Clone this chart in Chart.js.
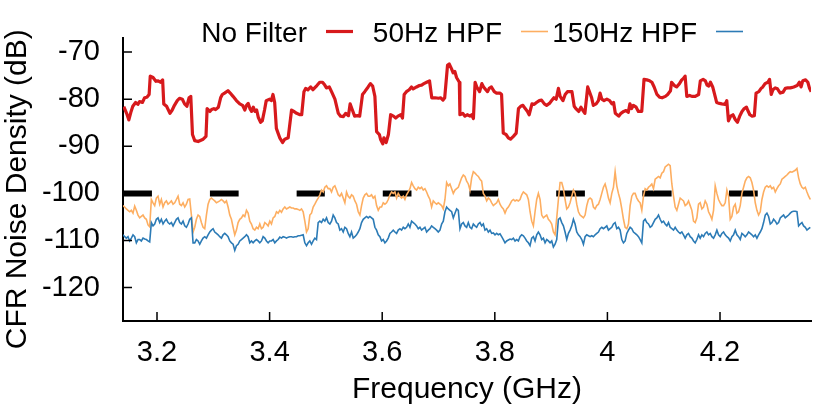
<!DOCTYPE html>
<html>
<head>
<meta charset="utf-8">
<script src="https://cdn.jsdelivr.net/npm/chart.js@4.4.1/dist/chart.umd.min.js"></script>
<style>
  html, body { margin: 0; padding: 0; background: #fff; }
  canvas { display: block; }
</style>
</head>
<body>
<canvas id="chart" width="830" height="415"></canvas>
<script>
// ---- data ----
const xTicks = [3.2, 3.4, 3.6, 3.8, 4.0, 4.2];
const yTicks = [-120, -110, -100, -90, -80, -70];
const seriesNames = ['No Filter', '50Hz HPF', '150Hz HPF'];
const xTitle = 'Frequency (GHz)';
const yTitle = 'CFR Noise Density (dB)';

// No Filter trace: frequency (GHz) / level (dB)
const noFilterFreq = [
  3.141,3.146,3.150,3.154,3.157,3.162,3.166,3.169,3.174,3.178,
  3.182,3.186,3.188,3.193,3.198,3.202,3.206,3.210,3.212,3.217,
  3.223,3.227,3.231,3.236,3.240,3.245,3.249,3.253,3.257,3.260,
  3.263,3.267,3.273,3.282,3.287,3.289,3.294,3.297,3.301,3.304,
  3.309,3.313,3.316,3.320,3.326,3.330,3.335,3.341,3.347,3.352,
  3.356,3.359,3.362,3.365,3.368,3.371,3.374,3.377,3.380,3.384,
  3.387,3.391,3.394,3.400,3.403,3.406,3.409,3.412,3.415,3.418,
  3.423,3.427,3.433,3.439,3.443,3.448,3.454,3.457,3.461,3.464,
  3.468,3.473,3.477,3.480,3.484,3.489,3.494,3.498,3.501,3.506,
  3.510,3.516,3.522,3.526,3.531,3.535,3.540,3.543,3.547,3.551,
  3.556,3.560,3.565,3.569,3.575,3.579,3.583,3.587,3.590,3.595,
  3.597,3.601,3.603,3.607,3.611,3.615,3.620,3.624,3.628,3.633,
  3.636,3.639,3.643,3.648,3.652,3.655,3.661,3.666,3.670,3.674,
  3.679,3.684,3.688,3.694,3.700,3.704,3.708,3.711,3.716,3.719,
  3.723,3.726,3.729,3.732,3.737,
  3.738,3.743,3.747,3.751,3.756,3.759,3.762,3.765,3.768,3.773,
  3.777,3.780,3.784,3.787,3.790,3.794,3.799,3.803,3.809,3.812,
  3.815,3.820,3.824,3.828,3.833,3.838,3.842,3.846,3.850,3.854,
  3.858,3.861,3.866,3.870,3.874,3.879,3.883,3.888,3.892,3.897,
  3.901,3.905,3.909,3.913,3.916,3.921,3.925,3.929,3.937,3.941,
  3.944,3.949,3.953,3.956,3.960,3.965,3.968,3.972,3.975,3.980,
  3.984,3.987,3.990,3.994,3.999,4.004,4.008,4.011,4.014,4.020,
  4.024,4.029,4.033,4.037,4.040,4.043,4.046,4.051,4.055,4.061,
  4.065,4.070,4.075,4.079,4.083,4.088,4.093,4.097,4.103,4.107,
  4.112,4.114,4.119,4.123,4.128,4.132,4.135,4.138,4.141,4.146,
  4.150,4.156,4.162,4.165,4.170,4.174,4.177,4.180,4.183,4.187,
  4.192,4.194,4.199,4.203,4.209,4.212,4.215,4.219,4.223,4.227,
  4.231,4.235,4.239,4.243,4.247,4.249,4.253,4.257,4.261,4.264,
  4.269,4.273,4.276,4.280,4.285,4.288,4.291,4.294,4.298,4.302,
  4.307,4.312,4.316,4.320,4.325,4.331,4.337,4.341,4.344,4.347,
  4.352,4.356,4.359,4.362
];
const noFilterDb = [
  -81.6,-83.0,-84.4,-82.6,-81.5,-80.7,-81.1,-80.5,-80.7,-79.7,
  -79.6,-79.0,-75.1,-75.4,-76.2,-76.1,-76.4,-75.9,-81.0,-81.5,
  -83.0,-82.3,-81.3,-80.3,-79.8,-80.0,-81.0,-81.5,-79.7,-79.4,
  -87.5,-88.8,-89.0,-88.5,-87.9,-82.0,-82.6,-82.2,-82.0,-82.2,
  -81.7,-79.7,-79.0,-78.7,-78.2,-78.7,-79.4,-80.3,-81.0,-81.3,
  -82.3,-81.3,-80.9,-82.0,-82.6,-81.7,-82.6,-82.3,-83.9,-84.9,
  -84.6,-82.3,-80.3,-80.0,-80.3,-79.0,-80.7,-86.2,-87.2,-88.2,
  -89.2,-88.5,-88.2,-82.3,-82.6,-83.0,-83.3,-83.3,-78.4,-77.7,
  -78.0,-77.4,-78.0,-77.6,-77.1,-76.4,-76.4,-77.0,-77.6,-77.4,
  -78.4,-80.0,-83.0,-83.6,-83.7,-83.0,-83.5,-81.0,-82.3,-83.6,
  -83.5,-83.6,-79.0,-78.4,-77.4,-76.7,-77.2,-79.4,-86.9,-87.5,
  -88.5,-89.5,-88.2,-89.2,-87.5,-83.3,-83.6,-84.0,-83.6,-83.3,
  -84.0,-79.0,-78.4,-78.0,-77.4,-77.8,-77.4,-77.1,-77.0,-76.7,
  -76.4,-76.1,-79.7,-79.7,-79.8,-79.7,-80.2,-79.7,-72.8,-72.5,
  -73.5,-74.4,-74.1,-75.4,-76.4,
  -83.3,-83.0,-83.6,-83.3,-83.6,-83.3,-84.1,-76.4,-77.4,-78.4,
  -76.7,-77.4,-78.0,-78.4,-77.7,-77.4,-78.4,-78.7,-78.7,-79.0,
  -87.2,-87.5,-88.2,-88.5,-87.9,-87.2,-82.0,-81.5,-81.3,-82.0,
  -82.6,-83.3,-81.0,-81.1,-80.7,-80.3,-80.2,-81.0,-81.3,-80.9,
  -80.3,-79.7,-80.0,-77.7,-79.4,-80.3,-79.0,-78.4,-78.4,-81.5,
  -82.0,-82.6,-81.7,-82.3,-83.0,-77.4,-78.4,-79.7,-81.3,-81.0,
  -80.3,-78.7,-80.0,-80.3,-80.0,-80.3,-81.0,-80.7,-83.0,-83.6,
  -83.0,-82.6,-82.4,-82.8,-81.0,-82.0,-81.3,-81.7,-82.6,-82.6,
  -75.8,-75.9,-76.1,-76.4,-77.4,-79.0,-79.6,-79.7,-79.4,-79.0,
  -78.2,-76.4,-77.1,-77.4,-76.7,-75.9,-75.6,-75.1,-79.4,-79.2,
  -79.4,-79.4,-79.0,-76.1,-75.8,-76.1,-77.0,-77.2,-76.4,-77.4,
  -79.7,-80.7,-80.9,-81.0,-81.1,-80.3,-84.6,-83.6,-83.3,-84.3,
  -84.9,-83.6,-82.6,-82.0,-81.7,-82.3,-83.3,-83.6,-83.5,-78.7,
  -78.4,-77.7,-77.4,-76.7,-76.4,-75.8,-79.0,-78.0,-77.6,-77.8,
  -78.7,-78.5,-77.7,-77.6,-77.6,-77.4,-77.1,-76.4,-77.4,-76.1,
  -75.9,-76.4,-77.7,-78.4
];

// the two HPF traces are sampled on one uniform frequency grid
const hpfStartGHz = 3.1396;
const hpfStepGHz = 0.002963;

const hpf50Db = [
  -102.6,-102.9,-103.3,-103.6,-103.9,-103.6,-104.2,-102.7,-103.6,-104.6,
  -105.2,-104.9,-104.6,-105.2,-105.5,-106.7,-107.1,-101.3,-102.0,-102.6,
  -101.0,-100.6,-102.3,-101.3,-102.9,-102.0,-101.6,-102.3,-102.0,-101.6,
  -102.3,-102.0,-101.3,-100.6,-102.3,-102.6,-102.0,-102.9,-102.3,-101.3,
  -101.2,-104.6,-108.2,-107.2,-105.5,-104.6,-104.9,-106.2,-107.2,-107.5,
  -104.6,-102.3,-101.3,-101.0,-101.3,-101.6,-102.0,-101.8,-101.6,-101.3,
  -101.6,-102.0,-101.6,-102.9,-104.6,-105.5,-107.2,-108.8,-107.8,-106.2,
  -105.5,-105.2,-104.6,-104.9,-103.6,-104.2,-105.9,-106.5,-107.5,-107.8,
  -107.2,-107.5,-106.5,-107.5,-107.2,-106.2,-106.5,-106.9,-105.9,-106.5,
  -105.2,-104.9,-103.9,-104.2,-103.6,-104.0,-103.3,-102.9,-103.3,-103.1,
  -102.9,-103.1,-103.1,-103.3,-103.3,-103.4,-103.6,-103.3,-103.9,-105.9,
  -108.2,-107.5,-104.6,-104.2,-102.9,-102.3,-101.6,-101.0,-100.3,-99.3,
  -99.7,-98.7,-98.4,-99.0,-99.0,-99.7,-98.7,-98.4,-99.3,-100.3,
  -100.6,-100.0,-101.0,-102.0,-99.7,-100.6,-101.0,-100.3,-100.6,-101.6,
  -102.3,-103.9,-104.6,-102.6,-101.0,-100.3,-100.0,-100.6,-100.6,-100.3,
  -101.0,-100.6,-102.6,-103.6,-102.9,-102.9,-102.0,-102.3,-102.0,-101.3,
  -100.3,-99.7,-100.0,-99.7,-101.0,-100.0,-100.6,-101.0,-100.6,-101.3,
  -100.3,-99.7,-99.0,-97.7,-98.4,-99.0,-99.3,-98.7,-99.0,-98.7,
  -99.3,-99.0,-99.7,-100.6,-101.3,-102.9,-101.6,-102.0,-102.3,-102.0,
  -102.3,-102.6,-103.3,-101.3,-97.7,-98.4,
  -98.0,-99.0,-100.0,-99.3,-99.0,-98.7,-97.7,-96.7,-96.1,-96.4,
  -97.4,-98.0,-99.3,-96.7,-95.4,-95.7,-96.1,-96.4,-97.0,-97.4,
  -100.0,-100.6,-101.6,-101.0,-101.3,-102.0,-102.6,-102.3,-102.0,-101.3,
  -102.3,-102.9,-103.3,-104.2,-103.3,-102.9,-102.3,-101.6,-101.3,-101.6,
  -101.4,-101.6,-101.3,-100.3,-99.7,-100.0,-100.3,-101.3,-103.9,-105.9,
  -106.9,-103.9,-101.3,-100.0,-101.3,-104.6,-105.2,-104.9,-104.6,-105.5,
  -105.9,-106.5,-108.2,-108.8,-105.2,-101.3,-97.7,-97.7,-99.0,-101.3,
  -103.3,-102.9,-102.0,-100.6,-99.3,-100.0,-102.3,-103.9,-104.6,-104.9,
  -105.2,-104.6,-102.6,-101.3,-101.0,-101.3,-102.9,-103.3,-102.6,-102.3,
  -101.3,-100.0,-98.7,-98.0,-99.3,-101.0,-102.0,-100.0,-98.7,-95.4,
  -98.4,-100.0,-101.3,-103.3,-105.5,-107.2,-107.5,-106.5,-102.6,-100.6,
  -100.0,-100.0,-101.0,-101.6,-102.0,-103.6,-100.6,-99.0,-99.3,-98.7,
  -98.4,-98.0,-99.0,-97.0,-96.7,-96.4,-96.7,-95.7,-95.4,-94.4,
  -94.1,-93.8,-94.1,-98.0,-100.6,-102.9,-103.6,-102.3,-101.0,-101.3,
  -101.6,-102.6,-102.3,-101.6,-102.6,-103.6,-105.9,-106.2,-105.2,-102.3,
  -102.0,-103.3,-102.9,-101.6,-102.3,-103.9,-104.6,-105.5,-103.6,-98.4,
  -100.0,-101.3,-102.0,-102.6,-102.6,-102.0,-99.3,-100.6,-105.5,-104.9,
  -102.9,-102.3,-104.2,-103.9,-102.6,-100.0,-98.7,-97.4,-96.7,-96.4,
  -96.7,-97.7,-99.3,-102.0,-103.6,-104.6,-103.9,-101.3,-99.7,-98.7,
  -98.4,-98.7,-98.4,-99.0,-98.7,-99.7,-99.0,-98.4,-98.0,-97.0,
  -96.7,-96.4,-96.1,-95.7,-95.4,-95.5,-95.3,-95.1,-94.7,-96.7,
  -98.0,-98.7,-99.0,-98.7,-99.7,-100.6,-101.3
];

const hpf150Db = [
  -108.8,-109.2,-109.5,-109.2,-110.1,-109.5,-108.8,-109.2,-110.5,-109.8,
  -109.8,-110.1,-109.5,-109.7,-109.8,-110.1,-110.3,-106.2,-106.9,-106.5,
  -105.5,-105.2,-106.2,-105.5,-106.5,-105.9,-105.5,-106.2,-106.5,-106.2,
  -106.9,-106.2,-105.5,-105.2,-106.2,-106.5,-105.9,-106.9,-107.2,-106.5,
  -105.5,-105.2,-110.5,-110.5,-109.8,-110.1,-110.8,-110.1,-109.5,-109.2,
  -109.5,-108.8,-108.2,-107.8,-107.5,-108.2,-108.5,-108.8,-109.2,-109.5,
  -108.8,-108.5,-108.8,-109.2,-110.1,-110.5,-110.8,-112.1,-111.1,-110.8,
  -110.1,-109.8,-109.5,-109.2,-108.8,-109.2,-110.5,-110.1,-110.5,-110.1,
  -109.8,-110.1,-110.5,-110.1,-109.2,-109.5,-110.1,-110.5,-110.1,-110.1,
  -109.8,-110.5,-110.1,-109.8,-109.3,-109.5,-109.2,-109.3,-109.5,-109.3,
  -109.2,-109.2,-109.3,-109.2,-109.2,-109.0,-109.0,-108.9,-108.8,-110.5,
  -111.1,-110.5,-110.1,-110.8,-110.1,-109.5,-109.8,-106.2,-105.9,-106.2,
  -105.5,-105.9,-105.2,-106.2,-106.5,-105.9,-104.6,-105.2,-106.2,-106.5,
  -107.8,-107.5,-108.2,-107.2,-107.5,-108.5,-109.2,-108.2,-109.5,-109.2,
  -108.8,-108.2,-107.5,-106.2,-105.5,-105.2,-104.9,-105.2,-104.9,-105.2,
  -105.5,-107.2,-107.8,-108.8,-109.2,-110.1,-109.8,-110.5,-110.1,-109.5,
  -108.5,-108.2,-107.8,-108.2,-108.5,-107.8,-107.5,-107.8,-107.2,-107.5,
  -107.2,-106.5,-107.2,-105.9,-106.2,-106.5,-106.9,-107.5,-107.2,-107.8,
  -107.5,-107.2,-108.2,-107.8,-107.5,-106.9,-107.2,-107.5,-107.8,-108.2,
  -107.8,-106.5,-105.9,-103.9,-102.9,-103.3,
  -103.6,-103.9,-105.2,-104.2,-103.3,-103.6,-107.5,-106.5,-106.2,-106.9,
  -107.2,-106.2,-107.2,-107.5,-106.5,-106.9,-107.2,-106.5,-106.2,-106.9,
  -106.5,-107.8,-107.5,-108.2,-107.8,-108.5,-108.4,-108.8,-108.5,-108.8,
  -108.6,-109.2,-109.8,-110.5,-110.1,-109.9,-109.7,-109.8,-109.5,-110.1,
  -109.8,-110.1,-109.2,-108.8,-109.0,-109.5,-110.1,-110.5,-111.1,-109.5,
  -109.2,-110.1,-108.8,-108.2,-108.8,-109.8,-109.5,-110.5,-109.8,-110.1,
  -110.5,-110.1,-111.4,-110.8,-109.8,-105.5,-105.2,-106.2,-106.9,-108.2,
  -109.8,-108.5,-107.8,-106.9,-105.5,-106.5,-108.2,-108.8,-109.2,-109.8,
  -110.8,-109.2,-108.8,-109.0,-109.2,-109.0,-109.2,-108.8,-108.5,-108.2,
  -107.5,-107.2,-107.5,-107.2,-106.9,-107.8,-107.5,-107.2,-106.5,-106.2,
  -107.5,-107.2,-107.8,-109.8,-110.5,-110.1,-108.5,-107.8,-107.2,-107.5,
  -108.2,-108.5,-108.8,-109.2,-109.8,-110.5,-105.9,-105.5,-106.2,-106.5,
  -107.2,-106.9,-106.2,-105.5,-105.2,-104.6,-105.5,-106.2,-105.9,-106.5,
  -106.9,-106.2,-107.2,-107.5,-107.8,-107.2,-107.8,-108.2,-108.5,-108.2,
  -108.8,-109.5,-108.8,-108.5,-109.2,-109.5,-110.1,-110.5,-109.8,-108.8,
  -109.5,-108.8,-109.2,-108.5,-108.2,-108.8,-108.5,-109.2,-109.5,-108.8,
  -107.8,-108.8,-109.2,-108.5,-108.2,-108.8,-109.2,-109.5,-110.1,-109.2,
  -108.8,-107.8,-108.8,-109.2,-109.8,-108.5,-108.8,-109.2,-108.8,-108.2,
  -108.5,-108.8,-109.2,-108.8,-109.5,-108.8,-108.2,-107.5,-106.2,-104.6,
  -104.2,-104.9,-106.5,-106.2,-105.5,-105.9,-106.5,-106.2,-105.2,-104.9,
  -104.6,-105.2,-104.9,-104.6,-104.2,-103.9,-103.8,-103.8,-103.9,-106.9,
  -106.5,-106.2,-106.9,-107.2,-107.8,-107.5,-107.2
];

// thick black markers at -100 dB
const markerStart = [3.141, 3.294, 3.448, 3.601, 3.755, 3.909, 4.062, 4.216];
const markerEnd   = [3.191, 3.345, 3.498, 3.652, 3.806, 3.960, 4.114, 4.267];
const markerLevel = -100;

// ---- chart ----
const FONT = '"Liberation Sans", Arial, Helvetica, sans-serif';
const colours = ['rgb(215,25,28)', 'rgb(253,174,97)', 'rgb(44,123,182)'];
const widths = [3.2, 1.6, 1.6];

const hpfFreq = hpf50Db.map((_, i) => hpfStartGHz + i * hpfStepGHz);
const toPoints = (xs, ys) => ys.map((y, i) => ({ x: xs[i], y: y }));

const markerPoints = [];
markerStart.forEach((s, i) => {
    markerPoints.push({ x: s, y: markerLevel });
    markerPoints.push({ x: markerEnd[i], y: markerLevel });
    markerPoints.push({ x: markerEnd[i], y: null }); // break between bars
});

// gnuplot-like ticks that point into the plot
const innerTicks = {
    id: 'innerTicks',
    afterDraw(chart) {
        const { ctx, chartArea, scales } = chart;
        ctx.save();
        ctx.strokeStyle = '#000';
        ctx.lineWidth = 1.5;
        ctx.beginPath();
        scales.x.ticks.forEach(t => {
            const px = scales.x.getPixelForValue(t.value);
            ctx.moveTo(px, chartArea.bottom);
            ctx.lineTo(px, chartArea.bottom - 9);
        });
        scales.y.ticks.forEach(t => {
            const py = scales.y.getPixelForValue(t.value);
            ctx.moveTo(chartArea.left, py);
            ctx.lineTo(chartArea.left + 9, py);
        });
        ctx.stroke();
        ctx.restore();
    }
};

// rotated y title, drawn at full width (chart.js would squeeze it to the axis height)
const yAxisTitle = {
    id: 'yAxisTitle',
    afterDraw(chart) {
        const { ctx, chartArea } = chart;
        ctx.save();
        ctx.font = '30px ' + FONT;
        ctx.fillStyle = '#000';
        ctx.textAlign = 'center';
        ctx.textBaseline = 'middle';
        ctx.translate(18, (chartArea.top + chartArea.bottom) / 2 + 10);
        ctx.rotate(-Math.PI / 2);
        ctx.fillText(yTitle, 0, 0);
        ctx.restore();
    }
};

// key with the label written before its line sample
const keyLegend = {
    id: 'keyLegend',
    afterDraw(chart) {
        const { ctx } = chart;
        const firstSample = 326, column = 195, sampleLen = 27, gap = 19;
        const textY = 42, lineY = 31.5;
        ctx.save();
        ctx.font = '28px ' + FONT;
        ctx.fillStyle = '#000';
        ctx.textAlign = 'right';
        ctx.textBaseline = 'alphabetic';
        seriesNames.forEach((name, i) => {
            const sx = firstSample + i * column;
            ctx.fillText(name, sx - gap, textY);
            ctx.strokeStyle = colours[i];
            ctx.lineWidth = widths[i];
            ctx.beginPath();
            ctx.moveTo(sx, lineY);
            ctx.lineTo(sx + sampleLen, lineY);
            ctx.stroke();
        });
        ctx.restore();
    }
};

const lineDefaults = { pointRadius: 0, tension: 0, fill: false, spanGaps: false };

new Chart(document.getElementById('chart').getContext('2d'), {
    type: 'line',
    data: {
        datasets: [
            Object.assign({ label: seriesNames[2], data: toPoints(hpfFreq, hpf150Db),
                borderColor: colours[2], borderWidth: widths[2] }, lineDefaults),
            Object.assign({ label: seriesNames[1], data: toPoints(hpfFreq, hpf50Db),
                borderColor: colours[1], borderWidth: widths[1] }, lineDefaults),
            Object.assign({ label: seriesNames[0], data: toPoints(noFilterFreq, noFilterDb),
                borderColor: colours[0], borderWidth: widths[0], borderJoinStyle: 'round' }, lineDefaults),
            Object.assign({ label: '', data: markerPoints,
                borderColor: '#000', borderWidth: 6, borderCapStyle: 'butt' }, lineDefaults)
        ]
    },
    options: {
        responsive: false,
        animation: false,
        devicePixelRatio: 1,
        layout: { padding: { top: 15, right: 19, left: 0, bottom: 0 } },
        plugins: { legend: { display: false }, tooltip: { enabled: false } },
        scales: {
            x: {
                type: 'linear',
                min: 3.1396,
                max: 4.3616,
                afterBuildTicks: s => { s.ticks = xTicks.map(v => ({ value: v })); },
                afterFit: s => { s.height = 94; },
                grid: { display: false, drawTicks: false },
                border: { display: true, color: '#000', width: 2 },
                ticks: {
                    autoSkip: false, maxRotation: 0, padding: 17, color: '#000',
                    font: { family: FONT, size: 29, lineHeight: 1 },
                    callback: v => String(+v.toFixed(1))
                },
                title: {
                    display: true, text: xTitle, color: '#000',
                    font: { family: FONT, size: 30 }, padding: { top: 0, bottom: 7 }
                }
            },
            y: {
                min: -127.1,
                max: -66.9,
                afterBuildTicks: s => { s.ticks = yTicks.map(v => ({ value: v })); },
                afterFit: s => { s.width = 123; },
                grid: { display: false, drawTicks: false },
                border: { display: true, color: '#000', width: 2 },
                ticks: {
                    autoSkip: false, padding: 23, color: '#000',
                    font: { family: FONT, size: 29, lineHeight: 1 }
                },
                title: { display: false }
            }
        }
    },
    plugins: [innerTicks, yAxisTitle, keyLegend]
});
</script>
</body>
</html>
